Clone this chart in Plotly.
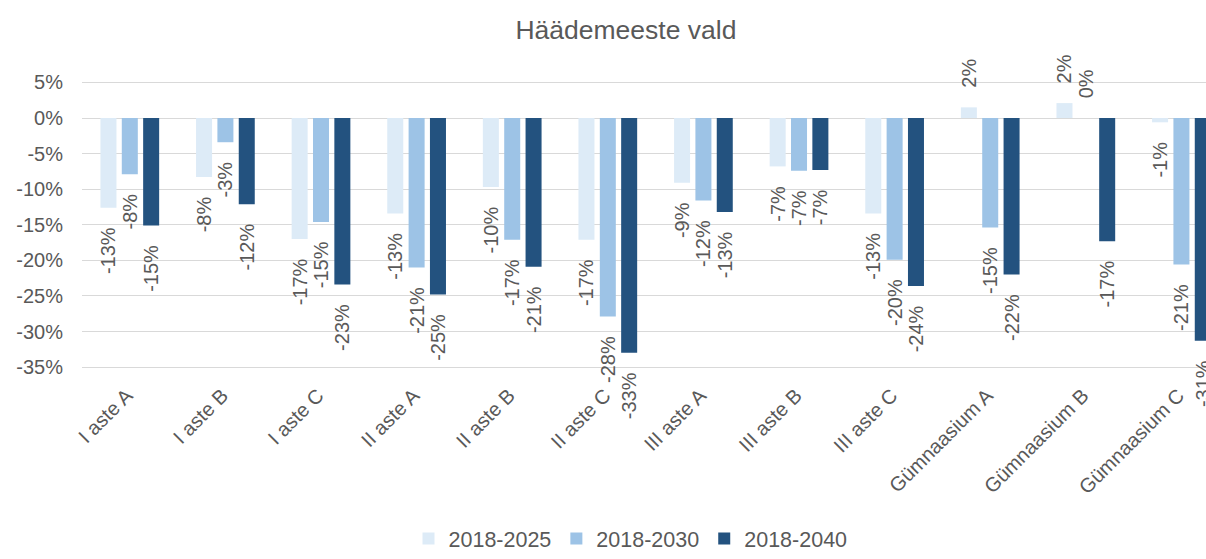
import plotly.graph_objects as go

categories = ["I aste A", "I aste B", "I aste C", "II aste A", "II aste B", "II aste C",
              "III aste A", "III aste B", "III aste C", "Gümnaasium A", "Gümnaasium B", "Gümnaasium C"]

v2025 = [-12.6, -8.3, -17.0, -13.4, -9.7, -17.1, -9.1, -6.8, -13.4, 1.5, 2.1, -0.6]
v2030 = [-7.9, -3.4, -14.6, -21.0, -17.1, -27.9, -11.6, -7.4, -19.9, -15.4, 0.0, -20.6]
v2040 = [-15.1, -12.1, -23.4, -24.8, -20.9, -33.0, -13.2, -7.3, -23.6, -22.0, -17.3, -31.3]

series_names = ["2018-2025", "2018-2030", "2018-2040"]
series_values = [v2025, v2030, v2040]
colors = ["#DDEBF7", "#9DC3E6", "#23527F"]

ytick_vals = [5, 0, -5, -10, -15, -20, -25, -30, -35]
ytick_text = ["5%", "0%", "-5%", "-10%", "-15%", "-20%", "-25%", "-30%", "-35%"]

FONT = "Liberation Sans, Arial, sans-serif"
GREY = "#595959"
PAD = "\u00a0\u00a0\u00a0"

# axis geometry: -35%..5% gridlines span y=367..82 px; range extended so labels fit
Y_MIN, Y_MAX = -43.0, 9.0
PX_PER = 285 / 40
TOP = 82 - (Y_MAX - 5) * PX_PER
BOTTOM = 367 + (-35 - Y_MIN) * PX_PER


def label(v):
    s = f"{int(round(v)):d}%"
    return (PAD + s) if v >= 0 else (s + PAD)


fig = go.Figure()
for name, vals, col in zip(series_names, series_values, colors):
    fig.add_trace(go.Bar(
        x=categories, y=vals, name=name,
        marker=dict(color=col, line=dict(width=0)),
        text=[label(v) for v in vals],
        textposition="outside", textangle=-90,
        constraintext="none", cliponaxis=True,
        textfont=dict(family=FONT, size=20, color=GREY),
        hoverinfo="skip",
    ))

fig.update_layout(
    width=1206, height=559,
    margin=dict(l=82, r=0, t=TOP, b=559 - BOTTOM, autoexpand=False),
    paper_bgcolor="white", plot_bgcolor="white",
    barmode="group", bargap=0.33, bargroupgap=0.25,
    font=dict(family=FONT, size=20, color=GREY),
    title=dict(text="Häädemeeste vald", x=0.519, xanchor="center",
               y=1 - 30 / 559, yanchor="middle", yref="container",
               font=dict(family=FONT, size=26.5, color=GREY)),
    showlegend=True,
    legend=dict(orientation="h", x=0.488, xanchor="center",
                y=-0.005, yref="container", yanchor="bottom",
                font=dict(family=FONT, size=21.5, color=GREY),
                traceorder="normal"),
    xaxis=dict(type="category", range=[-0.5, 11.257], tickangle=-45,
               showgrid=False, showline=False, ticks="", zeroline=False,
               tickfont=dict(family=FONT, size=20, color=GREY),
               ticklabelstandoff=int(12 - (BOTTOM - 367)), ticklabelshift=-3),
    yaxis=dict(range=[Y_MIN, Y_MAX], tickvals=ytick_vals, ticktext=ytick_text,
               showgrid=True, gridcolor="#D9D9D9", gridwidth=1,
               zeroline=True, zerolinecolor="#D9D9D9", zerolinewidth=1,
               showline=False, ticks="", ticklabelstandoff=18,
               tickfont=dict(family=FONT, size=20, color=GREY)),
)

fig.write_html("out.html",
               config={"displayModeBar": False, "staticPlot": True},
               post_script="document.body.style.margin='0';document.body.style.overflow='hidden';")
